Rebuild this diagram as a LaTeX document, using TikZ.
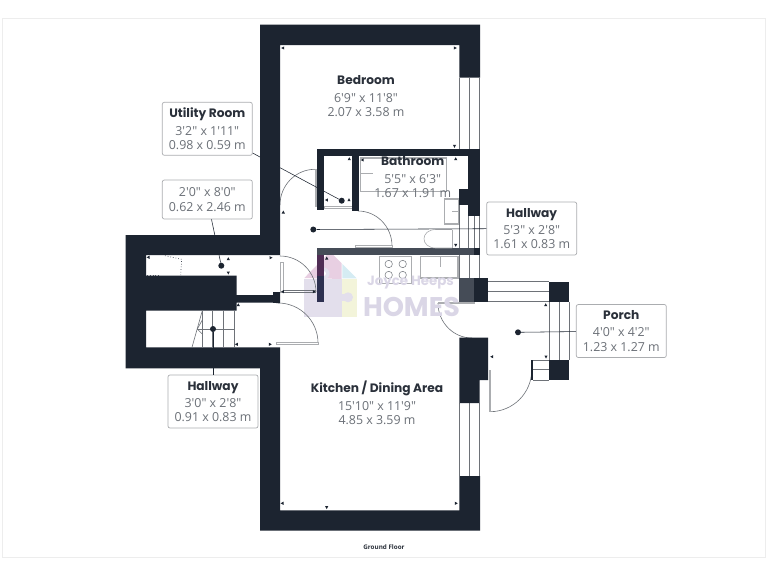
\documentclass[tikz,border=0pt]{standalone}
\usepackage{fontspec}
\usetikzlibrary{calc}
\setmainfont{Open Sans}[Ligatures=TeXOff]
\newfontfamily\ttlfont{Poppins}
\definecolor{wallc}{HTML}{1C2430}
\definecolor{wallg}{HTML}{454C57}
\definecolor{linec}{HTML}{6E7278}
\definecolor{fixc}{HTML}{ABADB0}
\definecolor{txtc}{HTML}{6B7077}
\definecolor{ttlc}{HTML}{2A303A}
\definecolor{wmk}{HTML}{E3DFEC}
\definecolor{wmkt}{HTML}{DAD6E6}
\definecolor{wmkpink}{HTML}{E8CFE2}
\definecolor{wmkblue}{HTML}{D5ECF3}
\definecolor{wmkyel}{HTML}{F3F4DA}
\definecolor{wallblue}{HTML}{2D3050}
\definecolor{wallpurp}{HTML}{502D55}
\tikzset{
  wall/.style={fill=wallc,draw=none},
  wallgray/.style={fill=wallg,draw=none},
  thin line/.style={draw=linec,line width=0.6pt},
  doorarc/.style={draw=linec,line width=0.6pt},
  doorleaf/.style={draw=fixc,fill=white,line width=0.8pt},
  fixture/.style={draw=fixc,fill=white,line width=1.4pt},
  lead/.style={draw=wallc,line width=0.55pt},
  ldot/.style={circle,fill=wallc,draw=none,minimum size=6pt,inner sep=0pt},
  lab/.style={draw=fixc,fill=white,rounded corners=2pt,line width=0.7pt,minimum width=90pt,inner sep=0pt,align=center,text=txtc,font=\fontsize{12.4}{14.3}\selectfont},
  roomtext/.style={align=center,text=txtc,inner sep=0pt,font=\fontsize{12.4}{14.3}\selectfont},
  mkr/.style={fill=wallc,draw=none},
}
\newcommand{\ttl}[1]{{\ttlfont\fontsize{12.2}{14.3}\selectfont\textcolor{ttlc}{\textbf{#1}}}}
% quarter arc: A, B, corner P
\newcommand{\qarc}[6]{\draw[doorarc] (#1,#2) .. controls ($(#1,#2)!0.5523!(#5,#6)$) and ($(#3,#4)!0.5523!(#5,#6)$) .. (#3,#4);}
% small marker triangles: x,y,dx,dy (direction)
\newcommand{\mk}[4]{\fill[mkr] (#1+#3*1.8,#2+#4*1.8) -- (#1-#3*1.2+#4*1.6,#2-#4*1.2+#3*1.6) -- (#1-#3*1.2-#4*1.6,#2-#4*1.2-#3*1.6) -- cycle;}
\begin{document}
\begin{tikzpicture}[x=1pt,y=-1pt]
\useasboundingbox (0,0) rectangle (768,576);
\fill[white] (0,0) rectangle (768,576);
\draw[draw=black!7,line width=0.8pt] (2.8,18) -- (765,18) (2.8,18) -- (2.8,557) -- (765,557) -- (765,18);

% watermark logo
\fill[wmkpink] (304.3,278) -- (330,251.7) -- (341.7,263.3) -- (341.7,279) -- cycle;
\fill[wmkblue] (342.3,264) -- (356.7,278.3) -- (342.3,278.3) -- cycle;
\fill[wmkyel] (342.3,279.3) rectangle (356.7,317.3);
\fill[wmk] (304.3,279.3) rectangle (341.7,317.3);
\fill[wmk] (323.5,273.5) circle (6);
\fill[white] (323.5,273.5) circle (2.5);
\fill[wmk] (348,297.3) circle (5);
\fill[wmk] (341,293.5) rectangle (347,301);

% door arcs
\qarc{280}{205}{315}{169.3}{280}{169.3}
\qarc{280}{256}{316}{292}{316}{256}
\qarc{278}{303}{318}{343}{318}{303}
\qarc{358}{211}{392}{246}{392}{211}
\qarc{438}{303}{472}{338}{438}{338}
\qarc{490}{411.7}{531.7}{370}{531.7}{411.7}

% door leaves and thresholds
\draw[doorleaf] (315,169.3) rectangle (316.7,206);
\draw[doorleaf] (280.5,262) rectangle (283,292);
\draw[thin line] (283,290.6) -- (316,290.6) (283,292.4) -- (316,292.4);
\draw[doorleaf] (276,342) rectangle (318,344.6);
\draw[doorleaf] (355,245.8) rectangle (392,247.6);
\draw[doorleaf] (438,302) rectangle (474,303.4);
\draw[doorleaf] (489.2,370) rectangle (490.8,411.7);
\draw[doorleaf] (324,206) rectangle (352,208);

% main walls
\fill[wall] (260,24.5) -- (480,24.5) -- (480,77.7) -- (459.3,77.7) -- (459.3,45) -- (280,45) -- (280,255) -- (146,255) -- (146,275.7) -- (236.7,275.7) -- (236.7,295) -- (276,295) -- (276,292) -- (280,292) -- (280,303) -- (276,303) -- (276,302.7) -- (236.7,302.7) -- (236.7,310.7) -- (146,310.7) -- (146,347.3) -- (280,347.3) -- (280,510.3) -- (459.3,510.3) -- (459.3,476) -- (480,476) -- (480,530.7) -- (260,530.7) -- (260,368.3) -- (125.7,368.3) -- (125.7,235) -- (260,235) -- cycle;

% windows
\draw[thin line] (459.3,77.7) -- (459.3,149) (469.5,77.7) -- (469.5,149) (479.7,77.7) -- (479.7,149);
\draw[thin line] (459.3,403) -- (459.3,476) (469.5,403) -- (469.5,476) (479.7,403) -- (479.7,476);
\draw[thin line] (459.3,205) -- (459.3,278) (468.3,216) -- (468.3,248) (474,216) -- (474,248) (479.5,216) -- (479.5,278) (469.5,255) -- (469.5,278);
\draw[thin line] (488,281.7) -- (549,281.7) (488,291.7) -- (549,291.7) (488,301.7) -- (549,301.7);
\draw[thin line] (549,302) -- (549,360) (559,302) -- (559,360) (569,302) -- (569,360);
\draw[thin line] (533,360) -- (549,360) (533,369.7) -- (549,369.7) (533,380) -- (549,380);
\fill[wall] (531.3,360) rectangle (533,380);

% bathroom walls
\fill[wall] (316.7,149.3) rectangle (479.5,156);
\fill[wall] (316.7,149.3) rectangle (324,210);
\fill[wall] (351.7,149.3) rectangle (359,211);
\fill[wall] (468,149.3) rectangle (479.5,216);
\fill[wall] (459.3,189.3) rectangle (479.5,205);

% kitchen walls
\fill[wallg] (316.7,248.3) rectangle (474,255);
\fill[wall] (474,248.3) rectangle (479.5,255);
\fill[wallg] (459.3,278) rectangle (474,302);
\fill[wall] (474,278) rectangle (488,301.7);
\fill[wall] (474,337.7) -- (459.3,337.7) -- (459.3,403) -- (479.5,403) -- (479.5,380) -- (488,380) -- (488,337.7) -- cycle;
\fill[wall] (549,281.7) rectangle (569,302);
\fill[wall] (549,360) rectangle (569,380);
\fill[wallblue] (316.7,255) rectangle (324,301.7);
\fill[wallpurp] (316.7,255) rectangle (324,276);
\fill[wallg] (316.7,248.3) rectangle (324,255);
\fill[wall] (273,292) rectangle (280,303);

% bath and fixtures
\draw[fixture] (360.5,158) rectangle (446.7,191.7);
\draw[fixc,line width=0.7pt] (361,173) -- (373,173);
\draw[fixture] (444.5,199) rectangle (458.7,224);
\draw[fixc,line width=0.7pt] (452,211) -- (458.7,211);
\draw[thin line,draw=fixc] (452,229.5) -- (436,229.5) .. controls (420,229.5) and (420,248) .. (436,248) -- (452,248);
\draw[fixc,line width=0.7pt] (452,229.5) -- (452,248);
\draw[fixture,line width=1pt] (379,256) rectangle (411.7,283);
\foreach \cx/\cy in {388.7/264,402.7/264,388.7/275,402.7/275} \draw[linec,line width=0.5pt] (\cx,\cy) circle (3.7);
\draw[fixture] (420.7,256.7) rectangle (458,278);
\draw[fixc,line width=0.7pt] (440,257) -- (440,267);

% stairs
\draw[thin line] (192,347.3) -- (202.3,310.7);
\draw[thin line] (197.3,329) -- (202.3,320) (197.3,329) -- (202.3,334);
\draw[thin line] (202.3,310.7) -- (202.3,347.3) (212.7,310.7) -- (212.7,347.3) (223.3,310.7) -- (223.3,347.3) (234,310.7) -- (234,347.3);
\draw[thin line] (197.3,329) -- (234,329);

% dashed cupboard
\draw[wallg,line width=0.7pt,dotted] (165,255.7) -- (181.7,259.3) -- (180.7,275);
\draw[wallg,line width=0.7pt,dotted] (147.3,275) -- (158.3,275);

% markers
\mk{283}{48}{-1}{0}\mk{455}{48}{1}{0}\mk{454.5}{146}{0}{1}
\mk{349.3}{159}{0}{-1}\mk{362.5}{160}{-1}{0}\mk{455.7}{159}{0}{-1}
\mk{326.7}{200}{-1}{0}\mk{349}{200}{0}{-1}
\mk{283.3}{212.3}{0}{-1}\mk{455.7}{245}{0}{1}\mk{326.7}{258.3}{0}{-1}
\mk{148.3}{257.3}{-1}{0}\mk{228.3}{259}{0}{-1}\mk{228.3}{272.7}{0}{1}
\mk{238.3}{305}{0}{-1}\mk{236.7}{344.3}{-1}{0}\mk{270.7}{257.7}{1}{0}\mk{270}{344.3}{1}{0}\mk{282.7}{291.7}{-1}{0}\mk{314}{291.7}{1}{0}
\mk{545.7}{305}{0}{-1}\mk{546}{356.7}{0}{1}\mk{492}{356.7}{-1}{0}
\mk{282.3}{503.3}{-1}{0}\mk{326.7}{507.3}{0}{1}\mk{456}{503.3}{1}{0}

% room texts
\node[roomtext] (bed) at (366,96.3) {\ttl{Bedroom}\\[3pt]6'9" x 11'8"\\2.07 x 3.58 m};
\node[roomtext] (bath) at (412.7,177.3) {\ttl{Bathroom}\\[3pt]5'5" x 6'3"\\1.67 x 1.91 m};
\node[roomtext] (kit) at (377,403) {\ttl{Kitchen / Dining Area}\\[3pt]15'10" x 11'9"\\4.85 x 3.59 m};
\node[inner sep=0pt,text=ttlc,font=\fontsize{6.3}{7}\selectfont\bfseries] (gf) at (384,546.7) {Ground Floor};

% labels
\node[lab,minimum height=53pt] (ur) at (207.3,128.8) {\ttl{Utility Room}\\[3pt]3'2" x 1'11"\\0.98 x 0.59 m};
\node[lab,minimum height=39pt] (cb) at (207.3,199.5) {2'0" x 8'0"\\0.62 x 2.46 m};
\node[lab,minimum height=53pt] (hw) at (213,401.5) {\ttl{Hallway}\\[3pt]3'0" x 2'8"\\0.91 x 0.83 m};
\node[lab,minimum height=53pt] (hb) at (531.7,228.5) {\ttl{Hallway}\\[3pt]5'3" x 2'8"\\1.61 x 0.83 m};
\node[lab,minimum height=53pt] (po) at (621.3,331) {\ttl{Porch}\\[3pt]4'0" x 4'2"\\1.23 x 1.27 m};

% dots and leaders
\node[ldot] (d1) at (341.7,200.7) {};
\node[ldot] (d2) at (221.3,265.7) {};
\node[ldot] (d3) at (213,329) {};
\node[ldot] (d4) at (313.3,229.5) {};
\node[ldot] (d5) at (518,332.3) {};
\draw[lead] (ur) -- (d1);
\draw[lead] (cb) -- (d2);
\draw[lead] (hw) -- (d3);
\draw[lead] (hb) -- (d4);
\draw[lead] (po) -- (d5);

% watermark text
\node[inner sep=0pt,text=wmkt,font=\ttlfont\fontsize{13.4}{16}\selectfont\bfseries] (wm1) at (410.5,282.7) {Joyce Heeps};
\node[inner sep=0pt,text=wmkt,font=\ttlfont\fontsize{27}{30}\selectfont\bfseries] (wm2) at (411.5,307) {HOMES};
\end{tikzpicture}
\end{document}
